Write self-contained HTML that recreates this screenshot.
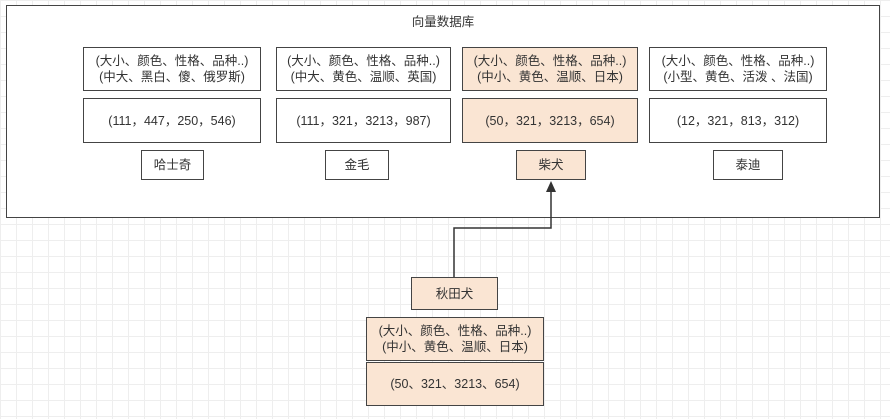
<!DOCTYPE html>
<html><head><meta charset="utf-8"><style>
body{margin:0;width:890px;height:419px;position:relative;overflow:hidden;background:#fff;
background-image:linear-gradient(#eee 1px,transparent 1px),linear-gradient(90deg,#eee 1px,transparent 1px);background-size:16px 16px;
font-family:"Liberation Sans","Noto Sans CJK SC",sans-serif;color:#333;font-size:12.5px}
.b{position:absolute;box-sizing:border-box;border:1.5px solid #444;background:#fff;display:flex;align-items:center;justify-content:center;text-align:center;line-height:16px}
.o{background:#fae5d3}
</style></head><body>
<div class="b" style="left:6px;top:5px;width:874px;height:213px;align-items:flex-start;padding-top:8px;border-width:1.5px">向量数据库</div>
<div class="b" style="left:83px;top:47px;width:178px;height:44px">(大小、颜色、性格、品种..)<br>(中大、黑白、傻、俄罗斯)</div>
<div class="b" style="left:276px;top:47px;width:175px;height:44px">(大小、颜色、性格、品种..)<br>(中大、黄色、温顺、英国)</div>
<div class="b o" style="left:462px;top:47px;width:176px;height:44px">(大小、颜色、性格、品种..)<br>(中小、黄色、温顺、日本)</div>
<div class="b" style="left:649px;top:47px;width:178px;height:44px">(大小、颜色、性格、品种..)<br>(小型、黄色、活泼 、法国)</div>
<div class="b" style="left:83px;top:98px;width:178px;height:45px">(111，447，250，546)</div>
<div class="b" style="left:276px;top:98px;width:175px;height:45px">(111，321，3213，987)</div>
<div class="b o" style="left:462px;top:98px;width:176px;height:45px">(50，321，3213，654)</div>
<div class="b" style="left:649px;top:98px;width:178px;height:45px">(12，321，813，312)</div>
<div class="b" style="left:141px;top:150px;width:63px;height:30px">哈士奇</div>
<div class="b" style="left:325px;top:150px;width:64px;height:30px">金毛</div>
<div class="b o" style="left:516px;top:150px;width:70px;height:30px">柴犬</div>
<div class="b" style="left:713px;top:150px;width:70px;height:30px">泰迪</div>
<svg style="position:absolute;left:0;top:0" width="890" height="419">
<polyline points="454,277 454,228 551,228 190,190" fill="none" stroke="none"/>
<polyline points="454,277 454,228 551,228 551,190" fill="none" stroke="#333" stroke-width="1.5"/>
<polygon points="551,181 546,192 556,192" fill="#333"/>
</svg>
<div class="b o" style="left:411px;top:277px;width:87px;height:33px">秋田犬</div>
<div class="b o" style="left:366px;top:317px;width:178px;height:44px">(大小、颜色、性格、品种..)<br>(中小、黄色、温顺、日本)</div>
<div class="b o" style="left:366px;top:362px;width:178px;height:44px">(50、321、3213、654)</div>
</body></html>
